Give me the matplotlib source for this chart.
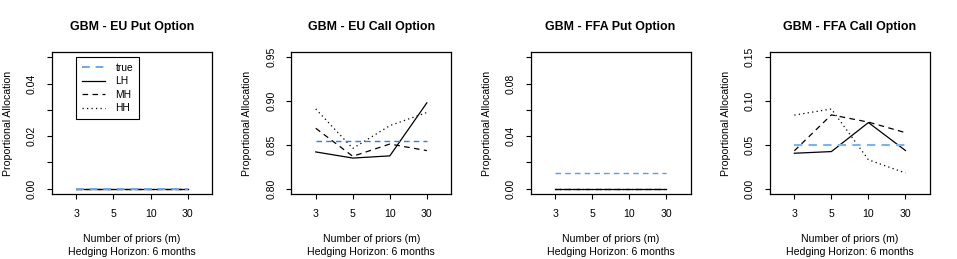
import numpy as np
import matplotlib.pyplot as plt

plt.rcParams['font.family'] = ['Liberation Sans', 'DejaVu Sans']

# x categories
priors = ["3", "5", "10", "30"]

# GBM - EU Put
eu_put_true = [0.0, 0.0, 0.0, 0.0]
eu_put_lh = [0.0, 0.0, 0.0, 0.0]
eu_put_mh = [0.0, 0.0, 0.0, 0.0]
eu_put_hh = [0.0, 0.0, 0.0, 0.0]

# GBM - EU Call
eu_call_true = [0.854, 0.854, 0.854, 0.854]
eu_call_lh = [0.842, 0.835, 0.8375, 0.898]
eu_call_mh = [0.869, 0.837, 0.851, 0.8435]
eu_call_hh = [0.891, 0.846, 0.872, 0.887]

# GBM - FFA Put
ffa_put_true = [0.0116, 0.0116, 0.0116, 0.0116]
ffa_put_lh = [0.0, 0.0, 0.0, 0.0]
ffa_put_mh = [0.0, 0.0, 0.0, 0.0]
ffa_put_hh = [0.0, 0.0, 0.0, 0.0]

# GBM - FFA Call
ffa_call_true = [0.050, 0.050, 0.050, 0.050]
ffa_call_lh = [0.0405, 0.0424, 0.0755, 0.0436]
ffa_call_mh = [0.0433, 0.0843, 0.076, 0.064]
ffa_call_hh = [0.084, 0.091, 0.033, 0.018]

titles = ["GBM - EU Put Option", "GBM - EU Call Option",
          "GBM - FFA Put Option", "GBM - FFA Call Option"]
panels = [
    (eu_put_true, eu_put_lh, eu_put_mh, eu_put_hh),
    (eu_call_true, eu_call_lh, eu_call_mh, eu_call_hh),
    (ffa_put_true, ffa_put_lh, ffa_put_mh, ffa_put_hh),
    (ffa_call_true, ffa_call_lh, ffa_call_mh, ffa_call_hh),
]
ylims = [(0.0, 0.05), (0.80, 0.95), (0.0, 0.10), (0.0, 0.15)]
yticks = [np.arange(0, 0.0501, 0.01), np.arange(0.80, 0.9501, 0.05),
          np.arange(0, 0.1001, 0.02), np.arange(0, 0.1501, 0.05)]
ylabel_every = [2, 1, 2, 1]
true_cols = ["#6fa8e6", "#2f80d8", "#5b9ee6", "#7fb2ea"]
true_lw = [1.4, 1.0, 1.0, 1.5]

W, H = 957, 259
fig = plt.figure(figsize=(W / 100, H / 100), dpi=100)

x = np.arange(1, 5)
for i in range(4):
    left = 52 + i * 239.3
    ax = fig.add_axes([left / W, 65 / H, 160 / W, 142 / H])
    tr, lh, mh, hh = panels[i]
    ax.plot(x, lh, color="black", lw=0.9, label="LH")
    ax.plot(x, mh, color="black", lw=0.9, dashes=(4.5, 3.5), label="MH")
    ax.plot(x, hh, color="black", lw=0.9, dashes=(1, 2.6), label="HH")
    ax.plot(x, tr, color=true_cols[i], lw=true_lw[i], dashes=(4, 3), label="true")

    ax.set_xlim(0.34, 4.66)
    lo, hi = ylims[i]
    ext = (hi - lo) * 0.04
    ax.set_ylim(lo - ext, hi + ext)
    ax.set_xticks(x)
    ax.set_xticklabels(priors, fontsize=7.6)
    ax.set_yticks(yticks[i])
    labs = ["%.2f" % v if k % ylabel_every[i] == 0 else "" for k, v in enumerate(yticks[i])]
    ax.set_yticklabels(labs, fontsize=7.6, rotation=90, va="center")
    ax.tick_params(direction="out", length=3.8, width=0.8, pad=7)
    for s in ax.spines.values():
        s.set_linewidth(0.9)

    cx = (left + 80) / W
    fig.text(cx, 1 - 27 / H, titles[i], ha="center", va="center",
             fontsize=8.9, fontweight="bold")
    fig.text(cx, 1 - 239 / H, "Number of priors (m)", ha="center", va="center", fontsize=7.6)
    fig.text(cx, 1 - 252 / H, "Hedging Horizon: 6 months", ha="center", va="center", fontsize=7.6)
    fig.text((left - 44) / W, 1 - 123 / H, "Proportional Allocation", ha="center",
             va="center", rotation=90, fontsize=7.6)

    if i == 0:
        h = ax.get_legend_handles_labels()
        order = [3, 0, 1, 2]
        leg = ax.legend([h[0][k] for k in order], [h[1][k] for k in order],
                        loc="upper left", bbox_to_anchor=(0.15, 0.965),
                        fontsize=7.4, frameon=True, fancybox=False,
                        edgecolor="black", framealpha=1, handlelength=2.3,
                        handletextpad=1.0, labelspacing=0.35, borderpad=0.55,
                        borderaxespad=0)
        leg.get_frame().set_linewidth(0.8)

fig.savefig("out.png", dpi=100)
